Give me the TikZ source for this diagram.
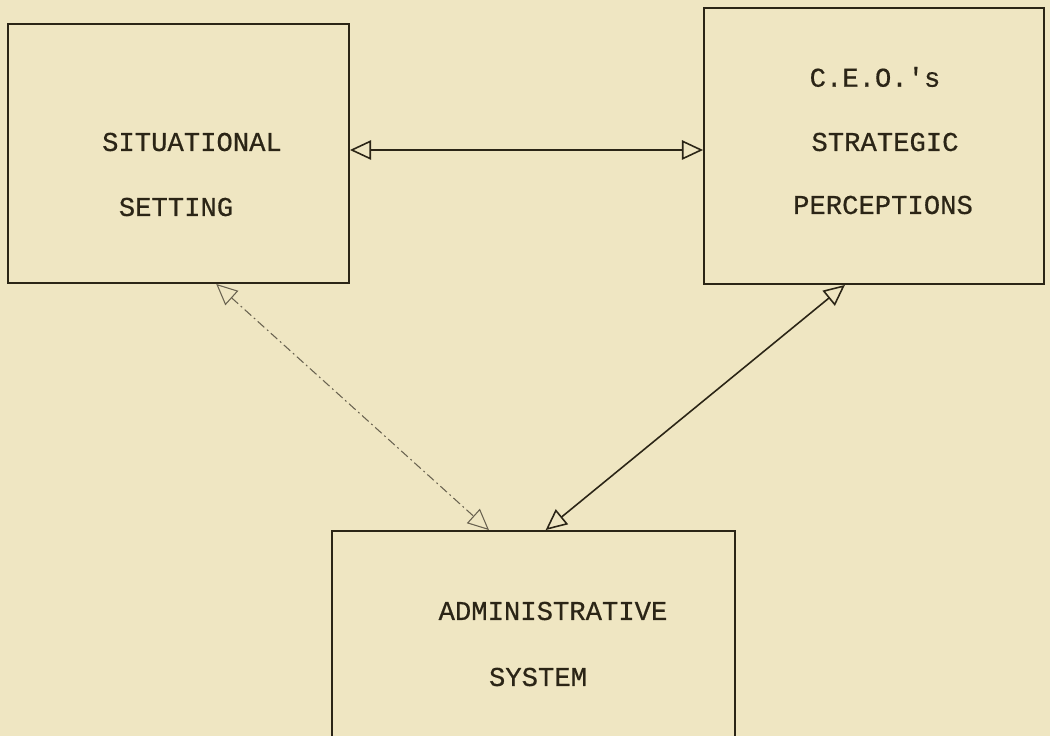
\documentclass[tikz,border=0pt]{standalone}
\usepackage{fontspec}
\usepackage{xcolor}
\usepackage{tikz}
\usetikzlibrary{arrows.meta}
\usetikzlibrary{calc}
\usetikzlibrary{positioning}
\newfontfamily\typewr{Liberation Mono}[FakeBold=0.5]
\definecolor{paper}{RGB}{239,230,194}
\definecolor{ink}{RGB}{43,37,22}
\definecolor{faint}{RGB}{105,98,80}

\begin{document}
\begin{tikzpicture}[x=0.02cm,y=-0.02cm,>={Triangle[open,length=12pt,width=11pt]},semithick]
						\tikzstyle{box}=[draw=ink, line width=1.1pt, rectangle, inner sep=0pt]
						\tikzstyle{word}=[font=\typewr\fontsize{15.5}{18}\selectfont, text=ink, inner sep=0pt]
						\tikzstyle{link}=[<->, draw=ink, line width=0.9pt]
						\tikzstyle{faintlink}=[<->, draw=faint, line width=0.6pt, dash pattern=on 5pt off 2pt on 1pt off 2pt]
						\fill[paper] (0,0) rectangle (1050,736);
						\clip (0,0) rectangle (1050,736);
						\node[box, minimum width=6.82cm, minimum height=5.18cm] 	(sit) at (178.5,153.5) {};
						\node[box, minimum width=6.8cm, minimum height=5.52cm] 	(ceo) at (874,146) {};
						\node[box, minimum width=8.06cm, minimum height=5.2cm] 	(adm) at (533.5,661) {};
						\coordinate (mid) at (526,150);
						\node[word] 	(sit1) at (192,142) {SITUATIONAL};
						\node[word] 	(sit2) at (176,207) {SETTING};
						\node[word] 	(ceo1) at (875,77) {C.E.O.'s};
						\node[word] 	(ceo2) at (885,142) {STRATEGIC};
						\node[word] 	(ceo3) at (883,205) {PERCEPTIONS};
						\node[word] 	(adm1) at (553,611) {ADMINISTRATIVE};
						\node[word] 	(adm2) at (538,677) {SYSTEM};
						\draw[link] (sit.east |- mid) -- (ceo.west |- mid);
						\draw[faintlink] ($(sit.south west)!0.61!(sit.south east)$) -- ($(adm.north west)!0.39!(adm.north east)$);
						\draw[link] ($(ceo.south west)!0.415!(ceo.south east)$) -- ($(adm.north west)!0.53!(adm.north east)$);
				\end{tikzpicture}
\end{document}
